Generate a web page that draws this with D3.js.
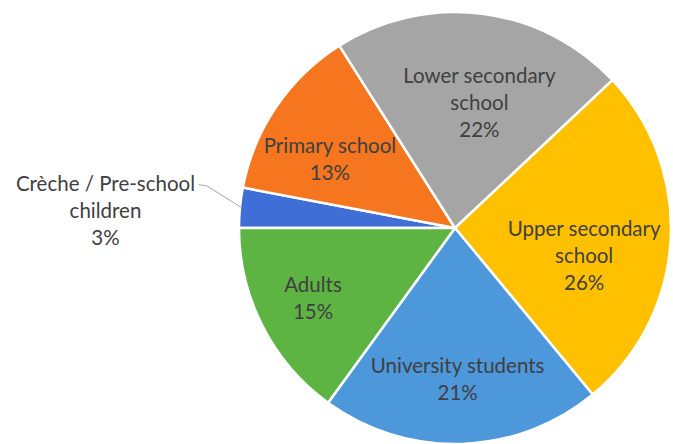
<!DOCTYPE html>
<html>
<head>
<meta charset="utf-8">
<script src="https://cdn.jsdelivr.net/npm/d3@7"></script>
<style>
  body { margin: 0; background: #fff; }
  text { font-family: Lato, "Open Sans", sans-serif; fill: #404040; }
</style>
</head>
<body>
<svg id="chart" width="673" height="444"></svg>
<script>
// data
const categories = ['Crèche / Pre-school children', 'Primary school', 'Lower secondary school',
                    'Upper secondary school', 'University students', 'Adults'];
const shares = [3, 13, 22, 26, 21, 15];
const labelLines = [['Crèche / Pre-school', 'children'], ['Primary school'], ['Lower secondary', 'school'],
                    ['Upper secondary', 'school'], ['University students'], ['Adults']];
const colors = ['#3f6fd6', '#f5761e', '#a5a5a5', '#ffc000', '#4d97db', '#5db443'];

// where excel put each label (angle in degrees from 12 o'clock, distance from centre)
const labelAngle = [273, 299, 11, 102, 179, 244];
const labelDist = [350, 143, 128, 132, 151, 158];

const cx = 455, cy = 228, radius = 216;
const lineH = 27;

const svg = d3.select('#chart');
const g = svg.append('g').attr('transform', `translate(${cx},${cy})`);

const rad = d => d * Math.PI / 180;

const pie = d3.pie()
    .sort(null)
    .value(d => d)
    .startAngle(rad(270))
    .endAngle(rad(630));

const arc = d3.arc().innerRadius(0).outerRadius(radius);

const arcs = pie(shares);

g.selectAll('path.slice')
    .data(arcs)
    .enter()
    .append('path')
    .attr('class', 'slice')
    .attr('d', arc)
    .attr('fill', (d, i) => colors[i])
    .attr('stroke', '#fff')
    .attr('stroke-width', 2.5)
    .attr('stroke-linejoin', 'round');

const labelPoint = i => {
    const a = rad(labelAngle[i]);
    return d3.arc().innerRadius(labelDist[i]).outerRadius(labelDist[i])
        .startAngle(a).endAngle(a).centroid();
};

// leader line for the small outside slice
const c0 = arcs[0];
const mid0 = (c0.startAngle + c0.endAngle) / 2;
const edge = d3.arc().innerRadius(radius - 2).outerRadius(radius - 2)
    .startAngle(mid0).endAngle(mid0).centroid();
const p0 = labelPoint(0);
g.append('polyline')
    .attr('points', [[p0[0] + 93, p0[1] - 25], [p0[0] + 101, p0[1] - 24], edge].map(p => p.join(',')).join(' '))
    .attr('fill', 'none')
    .attr('stroke', '#a6a6a6')
    .attr('stroke-width', 1);

const labels = g.selectAll('g.label')
    .data(arcs)
    .enter()
    .append('g')
    .attr('class', 'label')
    .attr('transform', (d, i) => `translate(${labelPoint(i)})`);

labels.each(function(d, i) {
    const lines = labelLines[i].concat([shares[i] + '%']);
    const top = -(lines.length - 1) * lineH / 2;
    d3.select(this).selectAll('text')
        .data(lines)
        .enter()
        .append('text')
        .attr('text-anchor', 'middle')
        .attr('dominant-baseline', 'central')
        .attr('y', (t, j) => top + j * lineH)
        .style('font-size', '20.5px')
        .text(t => t);
});
</script>
</body>
</html>
